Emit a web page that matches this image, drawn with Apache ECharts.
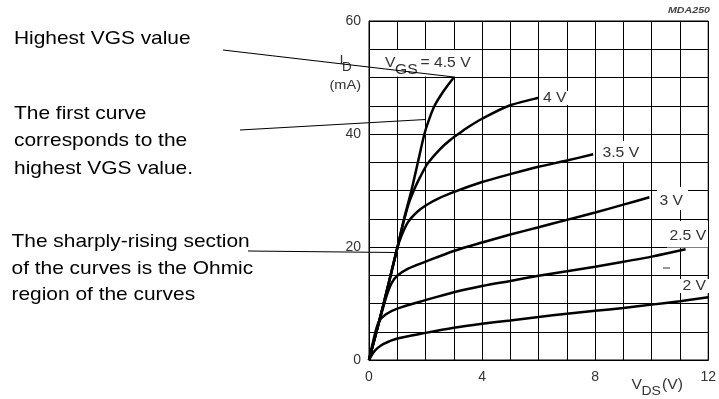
<!DOCTYPE html>
<html>
<head>
<meta charset="utf-8">
<script src="https://cdn.jsdelivr.net/npm/echarts@6/dist/echarts.min.js"></script>
<style>
html,body{margin:0;padding:0;background:#fff;}
#chart{width:719px;height:399px;}
</style>
</head>
<body>
<div id="chart"></div>
<script>
// ---- data (V_DS in V, I_D in mA) ----
var vgs45 = [[0,0],[0.5,9.6],[1,19.8],[1.24,25],[1.5,30],[1.73,35],[1.96,40],[2.12,42.5],[2.32,45],[2.64,47.6],[3,50]];
var vgs4  = [[0,0],[0.5,9.6],[1,19.8],[1.2,24],[1.4,27.6],[1.61,30.3],[1.82,32.5],[2.08,34.8],[2.49,37.2],[2.84,38.8],[3.16,40],[3.5,41.2],[4,42.7],[4.95,45],[6,46.4]];
var vgs35 = [[0,0],[0.5,9.6],[1,19.8],[1.15,22],[1.38,24.4],[1.7,26.2],[2.02,27.4],[2.5,28.7],[3.04,29.8],[4,31.5],[5,32.9],[6,34.2],[7,35.3],[7.93,36.4]];
var vgs3  = [[0,0],[0.3,5.6],[0.6,11],[0.8,13.6],[1,14.9],[1.4,16.2],[2,17.4],[3,19.3],[4,20.8],[5,22.2],[6,23.5],[7,24.8],[8,26.1],[9,27.5],[9.92,28.8]];
var vgs25 = [[0,0],[0.2,4.4],[0.35,6.8],[0.6,8.1],[1,9.1],[2,10.6],[3,12],[4,13.1],[5,14],[6,14.9],[7,15.7],[8,16.5],[9,17.4],[10,18.3],[11.2,19.6]];
var vgs2  = [[0,0],[0.15,1.3],[0.3,2.1],[0.5,2.8],[1,3.8],[2,4.8],[3,5.7],[4,6.4],[5,7],[6,7.6],[7,8.2],[8,8.7],[9,9.2],[10,9.8],[11,10.4],[12,11.1]];
var curveNames = ['4.5 V','4 V','3.5 V','3 V','2.5 V','2 V'];
var xTickLabels = [0,4,8,12];
var yTickLabels = [0,20,40,60];

var FONT = '"Liberation Sans", Arial, sans-serif';
var chart = echarts.init(document.getElementById('chart'), null, {renderer:'canvas'});

function curve(name, data){
  return {
    name: name, type:'line', data:data, showSymbol:false, symbol:'none',
    smooth:0.3, lineStyle:{color:'#000', width:2.5}, z:5, silent:true
  };
}

function txt(text, x, y, size, extra){
  var st = Object.assign({text:text, x:0, y:0, fontSize:size, fontFamily:FONT, fill:'#333', align:'left', verticalAlign:'middle'}, extra || {});
  return {type:'text', x:x, y:y, scaleX:1.12, z:30, style:st};
}
function box(x1,y1,x2,y2){
  return {type:'rect', shape:{x:x1,y:y1,width:x2-x1,height:y2-y1}, style:{fill:'#fff'}, z:20};
}
function seg(x1,y1,x2,y2,w){
  return {type:'line', shape:{x1:x1,y1:y1,x2:x2,y2:y2}, style:{stroke:'#000', lineWidth:w||1.2}, z:40};
}
function note(text, x, y){
  return {type:'text', x:x, y:y, scaleX:1.13, z:30, style:{text:text, fontSize:18.5, fontFamily:FONT, fill:'#000', align:'left', verticalAlign:'middle'}};
}

var option = {
  animation:false,
  backgroundColor:'#fff',
  grid:{left:369, right:7, top:21, bottom:39, show:true, borderColor:'#000', borderWidth:1},
  xAxis:{
    type:'value', min:0, max:12, interval:1,
    axisLine:{show:true, lineStyle:{color:'#000', width:1}},
    axisTick:{show:false},
    splitLine:{show:true, lineStyle:{color:'#000', width:1}},
    axisLabel:{fontSize:14, fontFamily:FONT, color:'#333', margin:10,
      formatter:function(v){ return xTickLabels.indexOf(v) >= 0 ? String(v) : ''; }}
  },
  yAxis:{
    type:'value', min:0, max:60, interval:5,
    axisLine:{show:true, lineStyle:{color:'#000', width:1}},
    axisTick:{show:false},
    splitLine:{show:true, lineStyle:{color:'#000', width:1}},
    axisLabel:{fontSize:14, fontFamily:FONT, color:'#333', margin:8,
      formatter:function(v){ return yTickLabels.indexOf(v) >= 0 ? String(v) : ''; }}
  },
  series:[
    curve(curveNames[0], vgs45),
    curve(curveNames[1], vgs4),
    curve(curveNames[2], vgs35),
    curve(curveNames[3], vgs3),
    curve(curveNames[4], vgs25),
    curve(curveNames[5], vgs2)
  ],
  graphic:[
    // label backgrounds
    box(382,50,470,76.5),
    box(542,91,568,105),
    box(600,141,640,162),
    box(657,187,688,210),
    box(667,221,708,247.5),
    box(680,279,709,293),
    // curve labels
    txt('V', 385, 63.5, 14),
    txt('GS', 395, 70.5, 14),
    txt('= 4.5 V', 420.5, 63.5, 14),
    txt(curveNames[1], 543, 98, 14),
    txt(curveNames[2], 602.5, 153, 14),
    txt(curveNames[3], 659.5, 201, 14),
    txt(curveNames[4], 669.5, 236.5, 14),
    txt(curveNames[5], 682.5, 286, 14),
    {type:'line', shape:{x1:663,y1:268,x2:670,y2:268}, style:{stroke:'#333', lineWidth:1}, z:30},
    // axis titles
    txt('I', 339.5, 60, 13),
    txt('D', 342, 67.5, 12),
    txt('(mA)', 329.5, 85, 13),
    txt('V', 631.5, 385, 14),
    txt('DS', 641.5, 391.5, 12.5),
    txt('(V)', 662, 385, 14),
    txt('MDA250', 668, 10.5, 9.5, {fontStyle:'italic', fontWeight:'bold', fill:'#444'}),
    // annotations
    note('Highest VGS value', 14, 39),
    note('The first curve', 14, 114),
    note('corresponds to the', 14, 141.3),
    note('highest VGS value.', 14, 168.6),
    note('The sharply-rising section', 11.5, 242),
    note('of the curves is the Ohmic', 11.5, 268.7),
    note('region of the curves', 11.5, 295.3),
    seg(223,50,454,77),
    seg(240,130,425.5,119.5),
    seg(248,251,395,252.5)
  ]
};
chart.setOption(option);
</script>
</body>
</html>
